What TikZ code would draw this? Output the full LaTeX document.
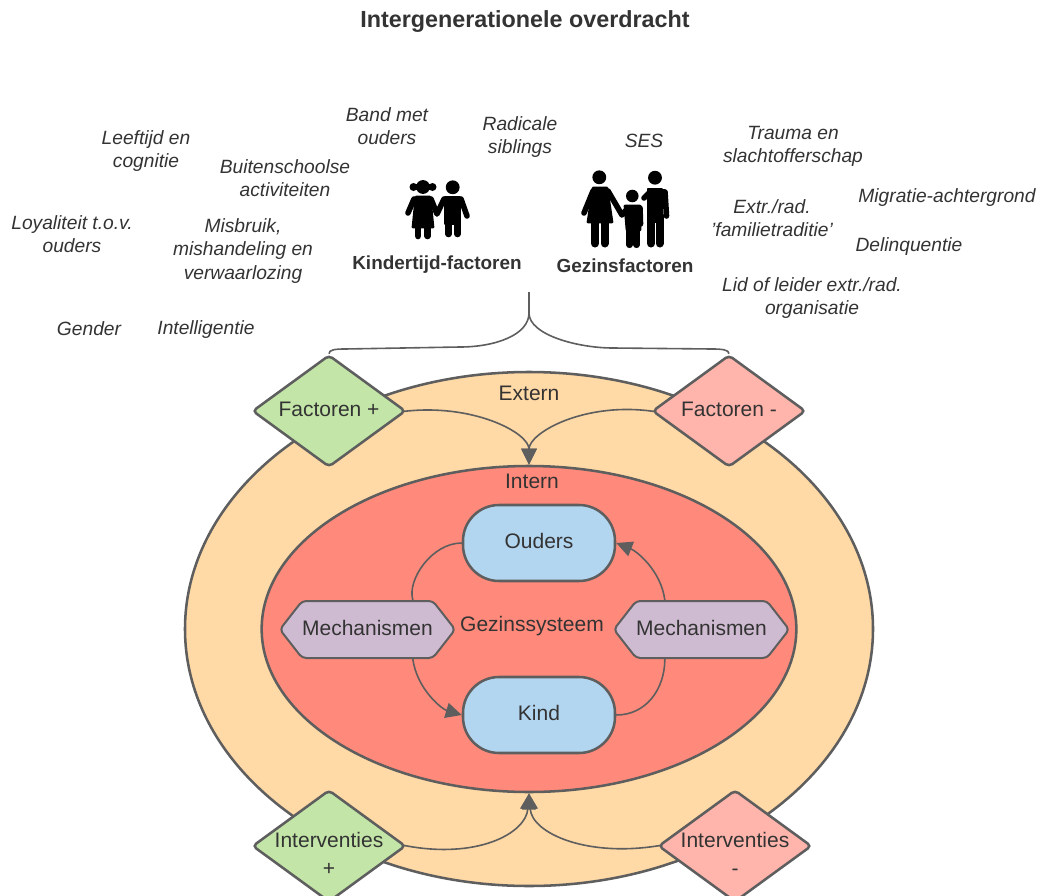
\documentclass[tikz,border=0pt]{standalone}
\usepackage{fontspec}
\setmainfont{Liberation Sans}
\usepackage{tikz}
\usetikzlibrary{arrows.meta,shapes.geometric,shapes.symbols}
\definecolor{ink}{HTML}{333333}
\definecolor{edge}{HTML}{5E5E5E}
\definecolor{orng}{HTML}{FFD9A6}
\definecolor{redd}{HTML}{FF8A7B}
\definecolor{grn}{HTML}{C3E6A8}
\definecolor{pnk}{HTML}{FFB5AC}
\definecolor{blu}{HTML}{B2D5F0}
\definecolor{purp}{HTML}{CFBBD1}
\tikzset{
	txt_i/.style = {align=center, inner sep=0pt, text=ink, font=\fontsize{14.4}{17.3}\selectfont\itshape},
	txt_b/.style = {align=center, inner sep=0pt, text=ink, font=\fontsize{14.2}{17}\selectfont\bfseries},
	txt_n/.style = {align=center, inner sep=0pt, text=ink, font=\fontsize{15.75}{20}\selectfont},
	ell_o/.style = {ellipse, inner sep=0pt, draw=edge, line width=1.9pt, fill=#1},
	dia_f/.style = {diamond, inner sep=0pt, draw=edge, line width=1.9pt, rounded corners=3pt,
		minimum width=115pt, minimum height=84pt, fill=#1},
	hex_m/.style = {signal, signal to=west and east, signal pointer angle=104, inner sep=0pt,
		draw=edge, line width=1.5pt, rounded corners=3pt, minimum width=124pt, minimum height=42.75pt,
		fill=purp, text=ink, font=\fontsize{15.75}{20}\selectfont},
	box_b/.style = {rectangle, inner sep=0pt, draw=edge, line width=1.9pt, rounded corners=27pt,
		minimum width=114pt, minimum height=57pt, fill=blu, text=ink, font=\fontsize{15.75}{20}\selectfont},
	conn/.style = {draw=edge, line width=1.2pt},
	limb/.style = {draw=black, line width=5pt, line cap=round, line join=round},
	torso/.style = {fill=black, draw=black, line width=2pt, line join=round}
}

\begin{document}
\begin{tikzpicture}[x=0.75pt,y=-0.75pt,>={Triangle[length=12pt,width=11.5pt]}]
\useasboundingbox (0,0) rectangle (1040,896);
% ellipses
\node [ell_o=orng, minimum width=516pt, minimum height=385.5pt] (extern) at (529,629) {};
\node [ell_o=redd, minimum width=401pt, minimum height=244.5pt] (intern) at (529,629) {};
% title and factor lists
\node [txt_b, font=\fontsize{17.5}{21}\selectfont\bfseries] (title) at (525,21.5) {Intergenerationele overdracht};
\node [txt_i] (band) at (387,126) {Band met\\ouders};
\node [txt_i] (radicale) at (520,137) {Radicale\\siblings};
\node [txt_i] (ses) at (644,140.5) {SES};
\node [txt_i] (trauma) at (793,146) {Trauma en\\slachtofferschap};
\node [txt_i] (leeftijd) at (146,151) {Leeftijd en\\cognitie};
\node [txt_i] (buiten) at (285,178) {Buitenschoolse\\activiteiten};
\node [txt_i] (traditie) at (772,218) {Extr./rad.\\'familietraditie'};
\node [txt_i] (migratie) at (947,197.5) {Migratie-achtergrond};
\node [txt_i] (loyaliteit) at (72,234) {Loyaliteit t.o.v.\\ouders};
\node [txt_i] (misbruik) at (243,251) {Misbruik,\\mishandeling en\\verwaarlozing};
\node [txt_i] (delinq) at (909,246.5) {Delinquentie};
\node [txt_i] (lid) at (812,298) {Lid of leider extr./rad.\\organisatie};
\node [txt_i] (gender) at (89,329) {Gender};
\node [txt_i] (intell) at (206,330) {Intelligentie};
\node [txt_b] (kindertijd) at (437,265) {Kindertijd-factoren};
\node [txt_b] (gezin) at (625,266) {Gezinsfactoren};
% children
\fill (423,187) circle (5.2pt) (413.5,187) circle (3pt) (432.5,187) circle (3pt) (452.7,187.3) circle (5.2pt);
\draw [limb, line width=4.2pt] (414,199) -- (408,213) (431,199) -- (437,214) -- (444,199) (461,199) -- (467,216);
\draw [limb] (418,226) -- (418,236) (427.5,226) -- (427.5,236) (448.5,222) -- (448.5,234) (457.5,222) -- (457.5,234);
\draw [torso] (416,197) -- (430,197) -- (433,227) -- (413,227) -- cycle;
\draw [torso] (445,197) -- (460,197) -- (460,224) -- (445,224) -- cycle;
% family
\fill (599.3,177.3) circle (5.2pt) (632.3,196) circle (4.7pt) (655,177.7) circle (5.2pt);
\draw [limb, line width=4.2pt] (593,191) -- (584,213) (608,191) -- (622,215) -- (628,208);
\draw [limb, line width=6pt] (595,222) -- (595,243.5) (604.5,222) -- (604.5,243.5) (651,215) -- (651,243.5) (659.5,215) -- (659.5,243.5);
\draw [limb, line width=4.6pt] (629.5,226) -- (629.5,245) (636.5,226) -- (636.5,245);
\draw [limb, line width=4.2pt] (640,208) -- (640.5,224) (644,198) -- (650,192) -- (665,192) -- (666.5,216);
\draw [torso] (593,188) -- (607,188) -- (612,222) -- (588,222) -- cycle;
\draw [torso] (625,206) -- (640,206) -- (640,230) -- (627,230) -- cycle;
\draw [torso] (648,189) -- (662,189) -- (662,222) -- (648,222) -- cycle;
% diamonds
\node [dia_f=grn] (fac_p) at (329,411) {};
\node [dia_f=pnk] (fac_m) at (729,411) {};
\node [dia_f=grn] (int_p) at (329,846) {};
\node [dia_f=pnk] (int_m) at (735,846) {};
\node [txt_n] (fac_pt) at (329,409) {Factoren +};
\node [txt_n] (fac_mt) at (729,409) {Factoren -};
\node [txt_n, font=\fontsize{15.75}{20.5}\selectfont] (int_pt) at (329,854) {Interventies\\+};
\node [txt_n, font=\fontsize{15.75}{20.5}\selectfont] (int_mt) at (735,854) {Interventies\\-};
% inner nodes
\node [box_b] (ouders) at (539,543) {\raisebox{2.8pt}{Ouders}};
\node [box_b] (kind) at (539,715) {\raisebox{3pt}{Kind}};
\node [hex_m] (mech_l) at (367.5,629.5) {\raisebox{2pt}{Mechanismen}};
\node [hex_m] (mech_r) at (701.5,629.5) {\raisebox{2pt}{Mechanismen}};
\node [txt_n] (systeem) at (532,626) {Gezinssysteem};
\node [txt_n] (extern_t) at (529,393) {Extern};
\node [txt_n] (intern_t) at (532,481) {Intern};
% brace
\coordinate (brace_top) at (529,292);
\coordinate (brace_mid) at (529,313);
\draw [conn] (brace_top) -- (brace_mid)
	.. controls +(0,22) and +(35,0) .. (460,347) -- (345,349)
	.. controls +(-10,0) and +(0,-4) .. (fac_p.north);
\draw [conn] (brace_mid)
	.. controls +(0,22) and +(-35,0) .. (613,348) -- (712,349)
	.. controls +(10,0) and +(0,-4) .. (fac_m.north);
% connectors
\draw [conn,->,shorten <=-3pt] (fac_p.east) .. controls +(66,-8) and +(0,-32) .. (intern.north);
\draw [conn,->,shorten <=-3pt] (fac_m.west) .. controls +(-66,-10) and +(0,-32) .. (intern.north);
\draw [conn,->,shorten <=-3pt] (int_p.east) .. controls +(70,14) and +(-3,40) .. (intern.south);
\draw [conn,->,shorten <=-3pt] (int_m.west) .. controls +(-70,12) and +(3,40) .. (intern.south);
\draw [conn] (ouders.west) .. controls +(-30,0) and +(-6,-20) .. ([xshift=34pt]mech_l.north);
\draw [conn,->] ([xshift=34pt]mech_l.south) .. controls +(4,30) and +(-20,-6) .. (kind.west);
\draw [conn] (kind.east) .. controls +(30,0) and +(0,30) .. ([xshift=-27.5pt]mech_r.south);
\draw [conn,->] ([xshift=-27.5pt]mech_r.north) .. controls +(-4,-30) and +(20,8) .. (ouders.east);
\end{tikzpicture}
\end{document}
